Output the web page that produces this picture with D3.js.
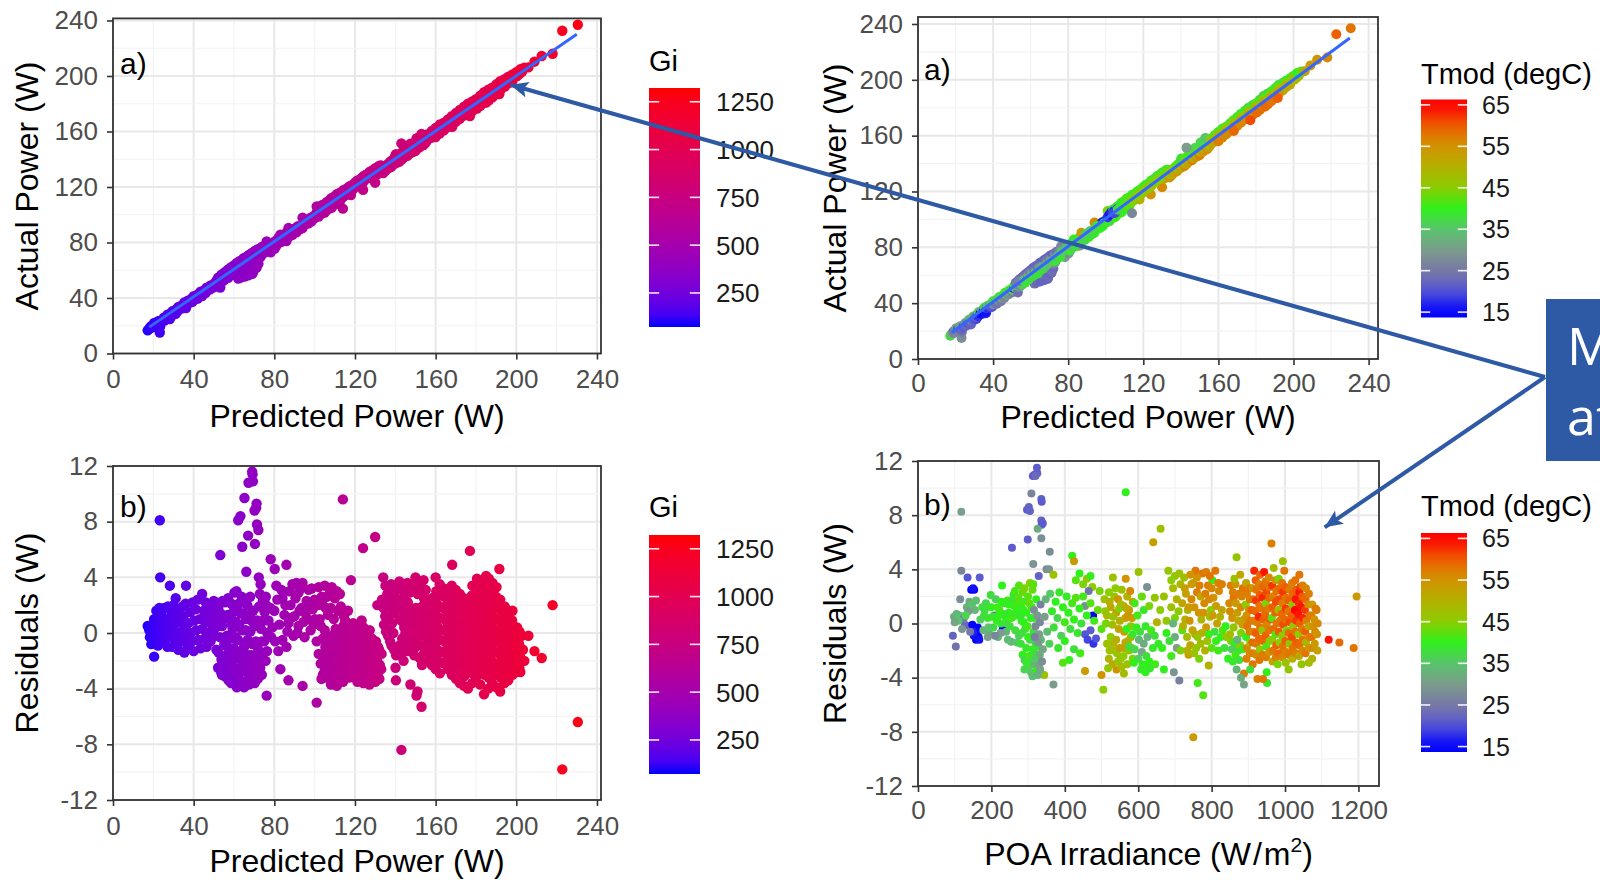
<!DOCTYPE html>
<meta charset="utf-8">
<head>
<title>PV power model: predicted vs actual and residuals</title>
<style>
  body { margin: 0; background: #fff; }
  svg text { font-family: "Liberation Sans", Arial, sans-serif; }
</style>
</head>
<body>
<div id="chart"></div>
<script src="https://d3js.org/d3.v7.min.js"></script>
<script>

// ---- axis breaks and colour scale settings ----
var powerTicks = [0, 40, 80, 120, 160, 200, 240];
var residualTicks = [-12, -8, -4, 0, 4, 8, 12];
var irradianceTicks = [0, 200, 400, 600, 800, 1000, 1200];
var giTicks = [250, 500, 750, 1000, 1250];
var tmodTicks = [15, 25, 35, 45, 55, 65];
var giLimits = [72, 1322];
var tmodLimits = [13.7, 66.3];
var tmodStops = [15, 20, 25, 30, 35, 40, 45, 50, 55, 60, 65];
var tmodColours = ["#0000ff", "#5555d8", "#7878a4", "#7c9c8c", "#58c46c", "#30f01c",
                   "#8ccc00", "#b4b000", "#d09400", "#ee5e00", "#ff0000"];

// fitted line (predicted -> actual), ends of the lm line
var fitPredicted = [18, 230];
var fitActual = [19, 230];

// ---- model without temperature: [predicted W, residual W, Gi, Tmod] ----
// residual = predicted - actual
var lowPowerPoints = [
  [17.2,0.5,88,38],[18.0,0.2,95,36],[18.3,-0.3,100,30],[19.0,-0.8,104,24],[19.4,0.6,106,26],[20.1,0.1,110,22],
  [20.4,1.0,112,28],[20.4,-1.7,113,33],[21.2,-0.4,118,24],[21.0,0.7,116,20],[21.5,1.6,120,26],[22.1,0.3,122,23],
  [22.3,-0.9,124,30],[23.2,8.1,128,28],[23.4,4.0,130,25],[23.0,1.8,127,22],[23.6,0.9,131,27],[23.3,-0.2,129,30],
  [24.4,0.4,135,24],[24.0,1.3,133,21],[25.2,-0.6,140,32],[25.5,1.8,142,23],[26.1,0.2,145,26],[26.4,1.0,147,22],
  [27.0,-1.0,150,34],[27.3,0.8,152,24],[27.2,1.9,151,20],[28.2,3.4,157,22],[28.4,0.3,158,28],[28.0,-0.3,156,31],
  [29.1,1.4,162,23],[29.4,-1.0,164,35],[30.2,0.5,168,25],[30.0,2.0,167,21],[31.1,2.5,173,19],[31.3,-0.5,174,30],
  [31.0,1.0,172,22],[32.2,0.0,179,26],[32.0,1.6,178,18],[32.4,-1.2,180,36],[33.3,0.8,185,16],[34.1,-0.6,190,30],
  [34.4,1.9,191,16],[35.2,0.3,196,17],[35.0,1.2,195,15],[35.4,-1.4,197,38],[36.2,3.4,201,17],[36.0,2.1,200,16],
  [36.5,-0.2,203,24],[37.3,0.7,207,17],[37.1,-1.0,206,36],[38.2,1.5,212,18],[38.4,0.0,214,27],[39.1,-0.6,218,35],
  [39.4,2.2,219,20],[40.2,0.9,224,30],[40.0,-1.3,222,38],[41.1,1.7,229,26],[41.3,0.2,230,34],[42.2,-0.5,235,37],
  [42.0,2.4,234,24],[43.1,1.0,240,32],[43.4,-1.1,241,39],[44.2,2.8,246,25],[44.4,0.3,247,35],[45.1,1.6,251,30],
  [45.3,-0.4,252,38],[46.2,0.8,257,36],[46.0,2.2,256,27],[46.4,-1.0,258,40],[47.1,0.0,262,38],[47.3,1.3,263,33],
  [48.2,2.0,268,28],[48.4,-0.6,269,39],[49.1,0.6,273,37],[49.3,1.5,274,34],[50.2,-0.2,279,40],[50.0,2.3,278,26],
  [50.4,1.0,280,36],[51.1,0.4,284,17],[51.3,-1.2,285,39],[52.2,1.8,290,30],[52.0,0.9,289,37],[53.2,5.6,296,24],
  [53.0,-0.3,295,38],[53.4,1.4,297,34],[54.1,0.5,301,37],[54.3,2.3,302,28],[55.2,-0.8,307,40],[55.0,1.0,306,36],
  [52.1,-2.5,290,22],[52.4,-1.4,291,26],[54.2,-2.2,302,24],[54.0,-3.0,300,22],[55.3,-3.1,307,23],[55.1,-1.8,306,27],
  [55.4,2.2,308,36],[56.2,-0.9,312,34],[56.0,-2.6,311,24],[57.1,2.5,317,38],[57.3,-3.4,318,22],[57.0,-1.5,316,27],
  [58.2,1.2,323,37],[58.0,-2.2,322,25],[58.4,-0.4,324,33],[59.1,-3.0,328,23],[59.3,0.3,329,36],[60.2,2.9,334,39],
  [60.0,-1.1,333,30],[60.4,-2.5,335,24],[60.1,-3.6,334,22],[61.2,3.0,340,40],[61.0,0.8,339,35],[61.4,-3.9,341,21],
  [61.3,-1.8,340,26],[62.1,8.1,345,24],[62.3,2.1,346,38],[62.0,-0.5,344,32],[62.4,-2.9,346,23],[63.2,8.4,351,23],
  [63.0,-3.4,350,22],[63.4,-1.3,352,28],[63.3,1.4,351,37],[64.1,6.2,356,25],[64.3,-2.2,357,24],[64.0,0.2,355,34],
  [65.2,9.7,362,22],[65.0,-3.9,361,21],[65.4,-0.9,363,29],[65.3,2.4,362,39],[66.1,4.4,367,26],[66.3,-2.8,368,23],
  [66.0,1.0,366,36],[67.2,10.8,373,22],[67.0,7.0,372,24],[67.4,-3.7,374,22],[67.3,-1.6,373,27],[68.1,0.1,378,33],
  [68.3,-2.4,379,24],[68.0,2.6,377,38],[69.2,11.4,384,21],[69.0,11.6,383,22],[69.4,10.9,385,23],[69.3,-3.0,384,23],
  [69.1,-0.8,383,30],[69.5,1.6,386,37],[70.2,8.8,390,22],[70.4,6.4,391,25],[70.0,-1.9,389,26],[70.3,-3.6,390,22],
  [70.1,0.5,389,34],[71.2,9.3,395,22],[71.0,9.0,394,23],[71.4,7.8,396,24],[71.3,-2.6,396,24],[72.1,7.4,400,23],
  [72.3,4.0,401,27],[72.0,-1.2,399,30],[72.4,1.9,402,38],[73.2,3.5,406,28],[73.0,-2.5,405,25],[73.4,0.3,407,35],
  [74.1,-1.6,411,30],[74.3,2.3,412,39],[75.2,1.5,417,38],[75.0,-0.6,416,34],[76.2,-4.5,423,27],[76.0,2.0,422,40],
  [76.4,-1.3,424,33],[77.1,0.9,428,37],[78.2,5.3,434,30],[78.0,1.8,433,38],[78.4,-0.3,435,36],[79.1,0.4,439,37]
];

// denser parts of the 50-117 W clouds
var lowPowerFill = [
  [53.6,-2.8,298,23],[53.8,-1.9,299,26],[56.6,-3.2,314,22],[56.8,-2.0,315,25],[56.5,-0.2,313,33],[56.9,1.3,316,37],
  [58.6,-3.6,325,22],[58.8,-2.8,326,23],[58.5,-1.2,324,28],[58.9,0.6,327,36],[58.7,2.1,326,39],
  [59.8,-1.8,332,26],[59.6,1.5,331,37],[60.7,-0.3,337,32],[61.8,-2.6,343,24],[61.7,1.8,342,38],
  [62.7,-3.8,348,22],[62.8,-1.5,349,27],[62.6,0.6,347,35],[63.7,-2.6,354,23],[63.8,2.6,354,39],
  [64.6,-3.5,359,22],[64.7,-1.1,359,29],[64.8,1.4,360,37],[65.7,-2.0,365,25],[65.8,0.2,365,33],
  [66.7,-3.4,371,22],[66.8,-0.5,371,31],[66.6,2.0,370,38],[67.7,-2.9,376,23],[67.8,1.2,376,36],
  [68.6,-3.6,381,22],[68.7,-1.6,381,27],[68.8,0.9,382,35],[69.8,-2.2,387,25],[70.7,-2.9,392,23],
  [70.8,-0.6,393,31],[71.7,-1.7,398,27],[71.8,-3.3,398,22],[71.6,0.9,397,35],[72.7,-2.0,403,26],
  [72.8,2.8,404,38],[73.7,-0.6,409,32],[73.8,-3.0,409,24],[74.7,0.9,415,36],[75.7,-2.0,420,28],[75.8,2.6,421,39],
  [81.5,2.4,452,37],[82.5,0.6,458,36],[83.5,3.1,463,38],[85.5,2.0,474,37],[86.5,0.1,480,35],[87.5,3.0,486,38],
  [88.5,1.1,491,36],[90.5,2.5,502,38],[91.5,0.0,508,35],[92.5,1.6,513,37],[93.0,3.2,516,39],[94.5,0.8,525,38],
  [96.5,1.0,536,39],[97.5,2.0,541,40],[98.5,3.2,547,40],[99.5,0.6,552,17],[101.5,2.0,563,39],[102.5,1.0,569,18],
  [103.5,2.6,574,40],[105.5,1.8,586,41],[106.0,2.6,588,42],[108.0,1.8,599,40],[109.5,1.0,608,41],[111.0,3.0,616,42],
  [113.0,1.9,627,43],[114.5,1.2,636,44],[116.5,1.6,647,46]
];

var midPowerPoints = [
  [80.2,4.6,445,28],[86.0,4.9,477,30],[81.0,3.4,450,36],[89.0,3.5,494,38],[94.0,3.6,522,40],[92.0,2.9,511,37],
  [84.0,2.5,466,38],[88.0,2.0,488,36],[80.0,1.6,444,40],[96.0,2.3,533,39],[100.0,2.4,555,41],[104.0,2.0,577,38],
  [107.6,2.9,597,42],[110.0,2.5,611,40],[106.6,1.3,592,39],[111.5,1.6,619,43],[100.2,1.0,556,18],[103.0,0.5,572,17],
  [92.0,0.5,511,36],[87.0,0.7,483,38],[84.0,-0.5,466,33],[86.0,-1.0,477,35],[80.4,-0.6,446,34],[76.5,0.0,425,36],
  [83.0,-2.6,461,40],[87.0,-3.4,483,54],[94.0,-3.8,522,56],[101.0,-5.0,561,44],[82.0,-1.3,455,38],[90.0,1.2,500,37],
  [95.5,1.4,530,40],[98.0,0.2,544,16],[91.0,3.6,505,39],[97.0,3.1,538,40],[102.0,3.3,566,38],[105.0,3.4,583,41],
  [108.5,3.3,603,40],[112.5,2.8,625,42],[85.0,1.3,472,37],[93.5,1.8,519,38],[99.0,1.7,550,39],[89.5,-0.2,497,36],
  [95.0,-0.3,528,38],
  [101.0,-0.6,561,18],[102.0,-1.5,566,16],[103.4,-3.3,574,40],[103.0,-2.2,572,17],[105.0,-2.7,583,38],[105.3,-1.0,585,17],
  [105.0,0.2,583,20],[107.2,-3.0,595,40],[107.0,-1.8,594,18],[107.4,-0.3,596,36],[109.1,-3.4,605,42],[109.3,-2.4,607,39],
  [109.0,-1.2,605,37],[109.5,-0.1,608,40],[111.0,-3.8,616,43],[111.2,-2.7,618,40],[111.4,-1.6,619,38],[111.1,-0.5,617,41],
  [113.2,-3.0,629,42],[113.0,-2.0,627,40],[113.4,-0.9,630,39],[113.1,0.1,628,42],[115.0,-2.5,639,39],[115.2,-1.4,640,40],
  [115.4,-0.3,641,43],[115.1,0.9,640,44],[117.2,-3.2,651,40],[117.0,-2.1,650,38],[117.4,-1.0,652,41],[117.1,0.4,651,44],
  [119.2,-2.6,662,39],[119.0,-1.5,661,41],[119.4,-0.4,663,44],[119.1,0.7,662,46],[121.2,-3.5,673,40],[121.0,-2.8,672,38],
  [121.4,-1.8,674,41],[121.1,-0.7,672,43],[121.3,0.3,673,45],[123.2,-3.1,684,39],[123.0,-2.2,683,41],[123.4,-1.2,685,43],
  [123.1,0.0,684,46],[123.3,0.9,685,48],[125.2,-3.4,695,38],[125.0,-2.5,694,40],[125.4,-1.5,696,42],[125.1,-0.5,695,45],
  [127.2,-3.7,706,37],[127.0,-2.8,705,40],[127.4,-1.9,707,42],[127.1,-0.9,706,44],[127.3,0.2,707,47],[129.2,-3.2,717,38],
  [129.0,-2.3,716,41],[129.4,-1.3,719,43],[131.2,-3.0,728,39],[131.0,-2.0,727,42],[131.4,-1.0,729,44],[131.1,2.0,728,52],
  [133.0,-2.6,739,40],[133.2,-1.5,740,43],[133.4,2.4,741,53],
  [114.0,9.6,633,27],[124.0,6.1,689,55],[130.0,6.9,722,56],[118.0,3.8,656,50]
];

var highPowerPoints = [
  [134.0,4.0,744,55],[134.2,1.8,745,49],[134.4,0.6,746,46],[136.0,2.8,755,53],[136.2,1.2,756,48],[136.4,-0.2,757,44],
  [138.0,3.5,766,55],[138.2,2.2,767,51],[138.4,0.7,768,47],[138.1,-0.9,767,42],[140.0,3.0,777,53],[140.2,1.6,778,49],
  [140.4,-1.6,779,41],[140.1,-2.5,778,39],[140.3,-3.4,779,38],[142.0,3.7,788,56],[142.2,2.4,789,52],[142.4,1.0,790,48],
  [142.1,-0.9,789,43],[144.0,3.0,800,54],[144.2,1.6,801,50],[144.4,0.4,802,46],[144.1,-2.0,800,40],[146.0,3.6,811,57],
  [146.2,2.2,812,52],[146.4,0.9,813,48],[146.1,-0.4,811,44],[146.3,-1.3,812,42],[148.0,3.2,822,55],[148.2,1.5,823,50],
  [148.4,0.2,824,46],[148.1,-0.9,822,43],[147.5,-3.7,819,37],[150.0,4.0,833,57],[150.2,1.8,834,51],[150.4,0.6,835,47],
  [150.1,-1.0,833,42],[150.5,-4.5,836,36],[152.0,3.4,844,55],[152.2,1.2,845,49],[152.4,-0.2,846,45],[152.1,-1.8,844,41],
  [151.0,-4.2,838,37],[154.0,3.8,855,56],[154.2,2.5,856,53],[154.4,0.8,857,48],[154.1,-1.5,856,42],[153.0,-5.3,850,35],
  [143.0,-8.4,794,30],
  [155.8,-2.0,866,41],[156.2,-1.2,868,43],[156.0,-0.4,867,45],[156.4,0.4,869,47],[156.1,1.2,867,49],[156.3,2.0,868,52],
  [160.0,-2.6,889,40],[160.3,-1.8,890,42],[159.8,-1.0,888,44],[160.2,-0.2,890,46],[160.4,0.6,891,48],[159.9,1.4,888,50],
  [160.1,2.2,889,53],[160.3,3.0,890,55],[160.0,4.0,889,57],
  [164.1,-2.2,911,41],[163.8,-1.4,910,43],[164.3,-0.6,912,45],[164.0,0.2,911,47],[164.2,1.0,912,49],[163.9,1.8,910,52],
  [164.4,2.6,913,54],[164.1,3.2,911,56],
  [168.0,-3.0,933,39],[168.3,-2.2,934,41],[167.8,-1.4,932,44],[168.2,-0.6,934,46],[168.4,0.2,935,48],[167.9,1.0,932,50],
  [168.1,1.8,933,52],[168.3,2.6,934,55],[168.0,3.4,933,57],[168.2,4.9,934,59],
  [172.0,-3.6,955,38],[172.3,-2.8,956,40],[171.8,-2.0,954,42],[172.2,-1.2,956,44],[172.4,-0.4,957,46],[171.9,0.4,955,48],
  [172.1,1.2,955,51],[172.3,2.0,956,53],[172.0,2.8,955,56],
  [176.0,-4.0,977,37],[176.3,-2.6,978,40],[175.8,-1.8,976,43],[176.2,-1.0,978,45],[176.4,-0.2,979,47],[175.9,0.6,976,49],
  [176.1,1.4,977,52],[176.3,2.2,978,55],[177.0,5.9,983,61],
  [180.0,-3.2,999,38],[180.3,-2.4,1000,41],[179.8,-1.6,998,43],[180.2,-0.8,1000,45],[180.4,0.0,1001,48],[179.9,0.8,998,50],
  [180.1,1.6,999,53],[180.3,2.4,1000,55],[180.0,3.2,999,57],[180.5,3.9,1002,59],
  [184.0,-4.4,1021,36],[184.3,-3.0,1022,39],[183.8,-2.2,1020,42],[184.2,-1.4,1022,44],[184.4,-0.6,1023,46],[183.9,0.2,1021,48],
  [184.1,1.0,1021,51],[184.3,1.8,1022,53],[184.0,2.6,1021,55],[184.2,3.4,1022,57],[185.0,4.1,1027,59],
  [188.0,-3.6,1043,37],[188.3,-2.8,1044,40],[187.8,-2.0,1042,42],[188.2,-1.2,1044,44],[188.4,-0.4,1045,47],[187.9,0.4,1042,49],
  [188.1,1.2,1043,51],[188.3,2.0,1044,54],[188.0,2.8,1043,56],[188.2,3.6,1044,58],
  [192.0,-4.2,1065,37],[192.3,-3.2,1066,39],[191.8,-2.4,1064,42],[192.2,-1.6,1066,44],[192.4,-0.8,1067,46],[191.9,0.0,1064,48],
  [192.1,0.8,1065,50],[192.3,1.6,1066,53],[192.0,2.4,1065,55],[191.6,4.6,1063,60],
  [196.0,-3.4,1087,38],[196.3,-2.6,1088,40],[195.8,-1.8,1086,43],[196.2,-1.0,1088,45],[196.4,-0.2,1089,47],[195.9,0.6,1086,50],
  [196.1,1.4,1087,52],
  [200.0,-2.8,1109,39],[200.3,-2.0,1110,42],[199.8,-1.2,1108,44],[200.2,-0.4,1110,47],[200.4,0.4,1111,49],
  [203.0,-2.0,1126,42],[203.3,-1.2,1127,45],[202.8,-0.2,1125,48],[202.0,-2.8,1120,40],[204.0,-2.0,1131,42],
  [206.0,-0.2,1142,52],[209.0,-1.3,1159,54],[212.6,-1.8,1179,55],[218.0,2.0,1209,56],[222.8,-9.8,1236,60],[230.5,-6.4,1279,58]
];

// denser parts of the 100-205 W clouds
var highPowerFill = [
  [104.1,-3.0,578,40],[104.3,-1.6,579,17],[104.0,-0.4,577,19],
  [106.1,-3.2,589,39],[106.3,-2.3,590,38],[106.0,-1.3,588,18],[106.4,-0.6,591,37],
  [108.1,-3.7,600,41],[108.3,-2.6,601,40],[108.0,-1.5,599,38],[108.4,-0.7,602,39],
  [110.1,-3.2,611,42],[110.3,-2.1,612,40],[110.0,-1.0,610,39],[110.4,0.3,613,42],
  [112.1,-3.4,622,41],[112.3,-2.4,623,40],[112.0,-1.3,621,42],[112.4,-0.2,624,43],
  [114.1,-3.5,633,40],[114.3,-2.6,634,39],[114.0,-1.7,632,41],[114.4,-0.6,635,43],[114.2,0.5,634,45],
  [116.1,-3.0,644,39],[116.3,-1.9,645,41],[116.0,-0.8,643,43],[116.4,0.3,646,45],
  [118.1,-2.9,655,40],[118.3,-1.8,656,42],[118.0,-0.7,654,44],[118.4,0.2,657,46],
  [120.1,-3.2,666,39],[120.3,-2.2,667,41],[120.0,-1.1,665,43],[120.4,0.1,668,45],
  [122.1,-2.6,677,40],[122.3,-1.5,678,42],[122.0,-0.3,676,45],[122.4,0.6,679,47],
  [124.1,-3.6,688,38],[124.3,-2.8,689,40],[124.0,-1.8,687,42],[124.4,-0.9,690,44],[124.2,0.4,689,46],
  [126.1,-3.1,699,39],[126.3,-2.1,700,41],[126.0,-1.1,698,43],[126.4,-0.1,701,46],
  [128.1,-3.4,710,38],[128.3,-2.4,711,41],[128.0,-1.4,709,43],[128.4,-0.4,712,45],
  [130.1,-3.5,721,38],[130.3,-2.6,722,40],[130.0,-1.6,720,42],[130.4,-0.6,723,44],
  [132.1,-3.3,733,39],[132.3,-2.3,734,41],[132.0,-1.2,732,43],
  [135.1,3.4,750,55],[135.3,2.3,751,52],[135.0,1.2,749,48],[135.4,0.1,752,45],
  [137.1,3.1,761,54],[137.3,1.9,762,50],[137.0,0.5,760,47],[137.4,-0.6,763,43],
  [139.1,2.8,772,53],[139.3,1.4,773,49],[139.0,0.0,771,45],[139.4,-1.2,774,42],
  [141.1,3.3,783,55],[141.3,2.0,784,51],[141.4,-1.3,785,42],
  [143.1,3.4,794,55],[143.3,2.1,795,51],[143.0,0.9,793,48],[143.4,-0.4,796,44],[143.2,-1.5,795,42],
  [145.1,2.6,805,53],[145.3,1.3,806,49],[145.0,0.0,804,46],[145.4,-1.0,807,43],
  [147.1,2.9,816,54],[147.3,1.8,817,51],[147.0,0.5,815,47],[147.4,-0.6,818,44],
  [149.1,3.6,827,56],[149.3,1.1,828,48],[149.0,-0.3,826,45],[149.4,-1.6,829,42],
  [151.1,2.8,838,54],[151.3,1.5,839,50],[151.0,0.2,837,46],[151.4,-0.8,840,44],
  [153.1,3.0,849,55],[153.3,1.9,850,51],[153.0,0.4,848,47],[153.4,-0.9,851,44],[153.2,-2.3,850,40],
  [155.1,3.1,860,55],[155.3,1.6,861,51],[155.0,0.2,859,46],[155.4,-1.0,862,43],
  [158.1,-2.3,877,40],[158.3,-1.5,878,43],[158.0,-0.7,876,45],[158.4,0.1,879,47],[158.2,0.9,878,50],[157.9,1.7,876,52],[158.1,2.5,877,55],
  [162.1,-2.9,899,39],[162.3,-2.1,900,42],[162.0,-1.3,898,44],[162.4,-0.5,901,46],[162.2,0.3,900,48],[161.9,1.1,898,50],
  [162.1,1.9,899,52],[162.3,2.7,900,55],[162.0,3.5,898,57],
  [166.1,-2.6,921,39],[166.3,-1.8,922,42],[166.0,-1.0,920,44],[166.4,-0.2,923,46],[166.2,0.6,922,49],[165.9,1.4,920,51],
  [166.1,2.2,921,54],[166.3,3.0,922,56],
  [170.1,-3.3,944,38],[170.3,-2.5,945,40],[170.0,-1.7,943,43],[170.4,-0.9,946,45],[170.2,-0.1,945,47],[169.9,0.7,943,50],
  [170.1,1.5,944,52],[170.3,2.3,945,55],[170.0,3.1,943,57],
  [174.1,-3.8,966,37],[174.3,-3.1,967,39],[174.0,-2.3,965,42],[174.4,-1.5,968,44],[174.2,-0.7,967,46],[173.9,0.1,965,48],
  [174.1,0.9,966,50],[174.3,1.7,967,53],[174.0,2.5,965,55],
  [178.1,-3.6,988,37],[178.3,-2.9,989,39],[178.0,-2.1,987,42],[178.4,-1.3,990,44],[178.2,-0.5,989,46],[177.9,0.3,987,48],
  [178.1,1.1,988,51],[178.3,1.9,989,53],[178.0,2.7,987,56],[178.2,3.4,988,58],
  [182.1,-3.7,1010,37],[182.3,-2.7,1011,39],[182.0,-1.9,1009,42],[182.4,-1.1,1012,44],[182.2,-0.3,1011,46],[181.9,0.5,1009,49],
  [182.1,1.3,1010,51],[182.3,2.1,1011,54],[182.0,2.9,1009,56],[182.2,3.7,1010,58],
  [186.1,-4.0,1032,36],[186.3,-3.2,1033,38],[186.0,-2.4,1031,41],[186.4,-1.6,1034,43],[186.2,-0.8,1033,45],[185.9,0.0,1031,48],
  [186.1,0.8,1032,50],[186.3,1.6,1033,52],[186.0,2.4,1031,55],[186.2,3.2,1032,57],[186.4,3.9,1034,59],
  [190.1,-3.9,1055,37],[190.3,-3.0,1056,39],[190.0,-2.2,1054,42],[190.4,-1.4,1057,44],[190.2,-0.6,1056,46],[189.9,0.2,1054,48],
  [190.1,1.0,1055,50],[190.3,1.8,1056,53],[190.0,2.6,1054,55],[190.2,3.3,1055,57],
  [194.1,-3.6,1077,37],[194.3,-2.9,1078,39],[194.0,-2.1,1076,42],[194.4,-1.3,1079,44],[194.2,-0.5,1078,46],[193.9,0.3,1076,48],
  [194.1,1.1,1077,50],[194.3,1.9,1078,52],
  [198.1,-3.0,1099,38],[198.3,-2.3,1100,41],[198.0,-1.5,1098,43],[198.4,-0.7,1101,45],[198.2,0.1,1100,47],[197.9,0.9,1098,50],
  [198.1,1.6,1099,52],
  [201.5,-2.5,1118,40],[201.7,-1.6,1119,43],[201.4,-0.8,1117,45],[201.6,0.1,1118,47]
];

// ---- model residuals vs plane-of-array irradiance: [POA W/m2, residual W, Tmod] ----
var poaLowPoints = [
  [118,8.25,30],[118,3.9,27],[135,3.4,20],[168,3.4,21],[145,2.5,15],[153,2.5,15],[150,2.6,16],[115,1.8,28],
  [98,0.5,32],[105,0.7,33],[113,0.6,34],[95,-0.9,22],[103,-1.7,24],[128,-0.1,23],[140,-0.2,22],
  [148,-0.1,15],[155,-0.4,15],[160,-0.7,16],[165,-1.0,15],[158,-1.2,15],[152,-0.9,16],[163,-0.3,15],[167,-1.2,16],[150,-0.6,17],
  [133,1.2,33],[140,1.6,32],[147,1.4,35],[155,1.0,33],[158,1.7,34],[137,0.9,30],[125,0.4,26],[120,-0.4,29],
  [110,0.2,35],[100,0.1,31],[130,0.6,37],[142,-0.6,25],[170,0.3,36],[175,1.2,38],[178,-0.5,33],
  [198,2.1,38],[229,2.8,40],[208,0.6,23],[231,-0.4,15],[254,-1.35,33],[256,5.6,21],[185,1.5,37],[190,0.4,39],
  [195,-0.8,32],[200,1.2,40],[205,-0.3,38],[212,1.8,36],[215,0.2,40],[218,-1.0,34],[222,1.0,41],[226,0.0,39],
  [235,1.5,38],[238,0.5,40],[240,-0.6,33],[244,1.7,41],[247,0.8,40],[250,-0.2,38],[253,1.6,37],[258,0.5,40],
  [262,1.3,41],[265,-0.5,38],[268,1.8,39],[272,0.6,40],[275,-0.9,36],[278,1.5,42],[282,0.2,39],[285,2.3,43],
  [288,1.0,41],[292,-0.4,38],[260,2.1,39],[245,-1.2,34],[225,-0.7,30],[210,-0.9,27],[190,-1.0,30],[180,0.6,38],[270,-1.4,35],
  [182,1.0,38],[203,0.5,39],[217,1.2,41],[228,1.6,40],[233,0.7,39],[242,0.0,38],[248,1.4,40],[255,0.4,41],
  [266,0.8,39],[273,1.9,42],[283,1.1,40],[192,-0.3,35],[220,0.6,40],
  [297,8.4,21],[302,8.6,22],[309,9.6,27],[313,10.9,21],[318,11.0,21],[325,11.1,22],[324,11.5,21],[336,9.2,22],
  [337,9.0,21],[336,7.6,22],[337,7.3,21],[326,7.0,32],[336,6.3,28],[359,5.3,28],[314,4.4,29],[329,3.5,22],
  [350,4.0,28],[357,4.0,29],[369,3.6,47],[299,6.2,21],[305,8.3,22],[320,10.9,23],[340,7.4,21],
  [280,-1.5,38],[285,-2.3,40],[290,-2.7,36],[295,-1.8,39],[300,-3.2,38],[302,-2.4,41],[305,-1.2,37],[308,-3.6,35],
  [310,-2.8,39],[312,-1.9,40],[315,-3.0,33],[318,-2.2,38],[320,-1.4,36],[322,-3.5,40],[325,-2.6,35],[328,-1.7,39],
  [330,-3.0,30],[332,-2.3,32],[335,-1.2,34],[338,-2.8,28],[340,-1.9,31],[344,-3.8,47],[300,-1.0,40],[315,-0.6,38],
  [290,-3.4,37],[312,-3.9,34],[327,-3.8,33],
  [283,-0.7,38],[298,-0.2,41],[307,0.4,39],[303,1.5,43],[288,0.1,40],[296,-2.9,39],[317,-2.6,36],[333,-3.4,31],
  [264,2.4,41],[270,1.0,40],[275,2.8,42],[280,0.6,39],[285,1.6,41],[290,2.6,44],[295,0.8,40],[300,2.0,42],
  [305,3.0,45],[310,1.2,41],[312,2.5,43],[318,0.4,39],[322,1.8,40],[314,2.9,42],
  [316,1.0,28],[320,-0.2,27],[325,0.6,29],[330,-0.8,30],[334,1.4,26],[328,-1.4,29],[332,0.1,27],[318,-1.0,26]
];

var poaMidPoints = [
  [369,-4.5,30],[420,5.0,40],[425,4.6,54],[430,3.2,42],[440,3.7,40],[450,2.9,44],[460,3.3,46],[470,3.5,40],
  [475,2.7,45],[465,2.4,24],[455,1.3,28],[477,0.6,15],[455,-0.8,20],[462,-1.2,19],[470,-0.5,21],[478,-1.5,18],
  [485,-1.1,20],[412,-2.7,40],[455,-3.5,54],[360,2.2,36],[365,0.9,39],[370,-0.3,38],[375,1.6,40],[380,0.4,37],
  [385,2.3,39],[390,-0.9,36],[395,1.2,40],[400,0.1,41],[405,2.0,39],[410,0.8,40],[415,-0.4,38],[420,1.5,41],
  [425,0.3,40],[430,1.9,42],[435,-0.7,39],[440,1.1,40],[445,0.0,38],[450,2.0,41],[460,0.6,40],[470,1.5,42],
  [480,0.2,41],[490,1.0,43],[495,2.4,44],[352,-0.6,34],[358,-1.5,36],[382,-1.8,39],[400,-1.3,40],[425,-1.9,38],
  [442,-2.2,41],[395,-2.9,42],[500,-0.4,42],[345,0.5,30],[348,1.8,33],
  [505,-4.9,45],[500,-3.8,55],[541,-3.4,55],[561,-3.7,48],[566,9.7,40],[566,3.3,55],[531,3.4,47],[641,6.0,53],
  [661,7.0,47],[601,3.8,47],[624,2.7,28],
  [508,1.8,47],[515,0.6,49],[520,2.3,45],[525,1.2,52],[530,-0.1,48],[535,2.0,46],[540,0.8,53],[545,1.8,55],
  [550,0.2,50],[555,2.5,47],[560,1.3,54],[565,0.4,52],[570,2.0,49],[575,1.0,55],[580,-0.2,46],[585,1.6,53],
  [512,0.0,44],[548,1.1,44],[578,2.4,56],
  [510,0.9,46],[522,1.6,50],[532,0.5,47],[538,2.6,45],[547,-0.4,52],[553,1.4,48],[562,-0.6,53],[568,1.1,51],
  [572,0.6,55],[583,0.4,54],[522,-2.0,47],[532,-1.5,50],[542,-2.2,46],[552,-2.6,48],[562,-1.8,52],[572,-1.3,45],[582,-1.8,49],
  [515,-1.5,47],[520,-2.6,49],[525,-1.0,45],[530,-3.0,52],[535,-2.0,47],[540,-1.2,50],[545,-2.8,46],[550,-1.8,53],
  [555,-3.2,48],[560,-2.4,45],[565,-1.4,52],[570,-3.0,47],[575,-2.0,46],[580,-1.0,49],[585,-2.6,44],[518,-3.3,46],
  [568,-0.4,40],[575,-1.7,38],[585,-0.8,39],[590,-1.9,37],[595,-0.3,40],[600,-2.6,36],[602,-1.2,33],[605,-0.6,38],
  [610,-2.1,31],[612,-3.0,40],[615,-1.5,32],[616,-3.2,40],[620,-0.2,39],[622,-2.4,38],[625,-1.0,33],[630,-2.8,40],
  [635,-0.5,41],[640,-1.8,39],[646,-3.0,41],[651,0.1,50],[645,-0.9,38],[608,-3.4,39],[588,-2.9,40],[598,0.6,41],
  [615,1.0,39],[630,1.3,44],[610,2.0,43],[590,1.5,41],[645,1.9,46],[655,-1.5,39],[620,-3.6,40],[632,-3.3,39],
  [677,0.2,46],[670,2.0,47],[682,3.9,46],[670,-3.4,40],[697,-3.6,29],[712,-4.2,26],[762,-4.4,41],[777,-5.3,42],
  [750,-8.4,54],[737,-2.3,54],[792,-3.1,50],[868,4.9,46],[888,-3.7,57],[868,-3.4,33],[880,-4.0,32],[888,-4.5,31],[802,3.2,40],
  [690,1.2,47],[695,2.6,48],[700,3.5,46],[705,1.8,50],[710,0.9,46],[715,2.9,49],[720,1.5,52],[725,3.4,47],
  [730,2.2,53],[735,1.0,48],[690,3.2,45],[700,0.4,44],[712,3.7,47],[728,0.3,50],
  [677,-0.7,40],[700,-1.0,32],[705,-1.8,30],[685,-1.3,38],[720,-0.5,42],[715,-2.0,44],[690,-2.4,41],[695,0.0,33],
  [665,-1.8,40],[660,1.0,45],
  [740,0.2,55],[745,1.8,56],[750,3.0,52],[755,-0.8,50],[760,2.3,57],[765,0.8,55],[770,-1.5,48],[775,3.7,58],
  [780,1.5,56],[785,-0.3,54],[790,2.8,57],[795,0.5,47],[800,-1.8,42],[805,1.9,55],[810,3.9,58],[815,0.0,53],
  [820,2.4,56],[825,-1.0,40],[828,1.0,52],[742,-1.6,52],[752,-2.2,47],[762,-1.0,46],[772,0.3,49],[782,-2.0,50],
  [792,-0.8,40],[798,1.0,45],[808,-0.6,38],[818,-2.0,41],[745,2.9,54],[785,3.8,57],[795,3.5,58],[760,3.4,55],
  [770,2.0,52],[733,-1.0,48],[727,2.6,53],
  [722,-0.2,50],[738,1.2,54],[748,-0.5,52],[753,1.2,55],[758,-1.8,46],[767,2.8,57],[773,-0.7,50],[778,0.8,55],
  [783,2.2,57],[788,-1.3,47],[793,1.8,56],[803,0.6,54],[812,1.3,53],[818,3.0,57],[823,0.5,50],[812,-1.3,40],
  [828,2.9,57],[800,2.6,56],[766,-2.6,44],[756,3.9,58],[742,3.6,55],[734,-2.0,50],
  [848,1.5,56],[852,2.8,57],[856,0.4,55],[860,1.9,58],[865,2.9,55],[870,0.8,53],[875,2.2,57],[880,1.2,56],
  [885,2.6,58],[888,0.3,55],[862,3.3,47],[878,3.6,52],
  [850,0.9,56],[858,2.3,57],[866,1.5,54],[873,0.2,52],[882,2.0,57],[853,-1.3,44],[863,-1.5,40],[872,-2.0,38],
  [878,-1.6,45],[884,-0.1,53],
  [830,-0.5,42],[835,-1.8,38],[840,-1.0,45],[845,-2.6,40],[850,-0.8,48],[855,-1.9,36],[860,-0.3,46],[865,-2.3,41],
  [870,-1.2,33],[875,-2.7,38],[880,-0.7,44],[885,-1.9,40],[838,-0.2,40],[858,-2.8,39]
];

var poaHighPoints = [
  [895,-2.6,57],[896,-1.8,56],[894,-1.0,40],[897,-0.2,58],[895,0.6,55],[893,1.4,45],[896,2.2,57],[894,3.0,52],
  [904,-2.2,56],[905,-1.4,45],[903,-0.6,57],[906,0.2,58],[902,1.0,56],[904,1.8,57],[905,2.6,58],
  [912,-3.0,58],[913,-2.2,57],[911,-1.4,59],[914,-0.6,56],[912,0.2,57],[910,1.0,60],[913,1.8,58],[911,2.6,55],[916,3.9,63],
  [921,-2.3,56],[922,-1.5,58],[920,-0.7,60],[923,0.1,57],[919,0.9,59],[921,1.7,62],[922,2.5,58],[920,3.2,60],
  [930,-2.7,58],[931,-1.9,45],[929,-1.1,59],[932,-0.3,58],[928,0.5,63],[930,1.3,58],[931,2.1,60],[929,2.9,57],[932,3.6,59],
  [939,-2.3,57],[940,-1.3,59],[938,-0.5,46],[941,0.3,60],[937,1.1,58],[939,1.9,63],[940,2.7,59],
  [948,-2.5,57],[949,-1.7,42],[947,-0.9,60],[950,-0.1,56],[946,0.7,59],[948,1.5,44],[949,2.3,61],[947,3.1,58],
  [943,3.8,64],[950,-3.6,40],[951,-4.4,39],
  [957,-2.1,55],[958,-1.3,44],[956,-0.5,58],[959,0.3,60],[955,1.1,57],[957,1.9,59],[958,2.7,58],[956,3.4,56],
  [966,-2.8,52],[967,-2.0,58],[965,-1.2,46],[968,-0.4,59],[964,0.4,42],[966,1.2,60],[967,2.0,57],[965,2.8,62],
  [969,4.1,48],[963,5.9,57],
  [975,-2.5,57],[976,-1.6,60],[974,-0.8,42],[977,0.0,58],[973,0.8,59],[975,1.6,61],[976,2.4,58],[974,3.2,55],
  [984,-2.2,59],[985,-1.4,45],[983,-0.6,60],[986,0.2,58],[982,1.0,48],[984,1.8,61],[985,2.6,59],[983,3.3,44],
  [993,-2.5,56],[994,-1.7,58],[992,-0.9,46],[995,-0.1,61],[991,0.7,59],[993,1.5,57],[994,2.3,62],[992,3.0,58],
  [1002,-2.9,47],[1003,-2.1,57],[1001,-1.3,60],[1004,-0.5,44],[1000,0.3,59],[1002,1.1,62],[1003,1.9,58],[1001,2.7,60],
  [998,3.9,58],[994,4.6,47],
  [1011,-2.3,58],[1012,-1.5,46],[1010,-0.7,59],[1013,0.1,61],[1009,0.9,58],[1011,1.7,60],[1012,2.5,57],
  [1020,-2.6,50],[1021,-1.8,58],[1019,-1.0,61],[1022,-0.2,47],[1018,0.6,60],[1020,1.4,46],[1021,2.2,59],[1019,3.0,57],
  [1029,-2.2,57],[1030,-1.4,60],[1028,-0.6,58],[1031,0.2,62],[1027,1.0,65],[1029,1.8,64],[1030,2.5,60],[1028,3.2,58],
  [1038,-2.4,52],[1039,-1.6,59],[1037,-0.8,45],[1040,0.0,60],[1036,0.7,64],[1038,1.5,63],[1039,2.3,64],[1042,2.7,62],[1039,3.6,58],
  [1047,-2.0,56],[1048,-1.2,58],[1046,-0.4,57],[1049,0.4,63],[1045,1.2,64],[1047,2.0,60],[1048,2.8,57],
  [1056,-2.2,58],[1057,-1.4,49],[1055,-0.6,60],[1058,0.2,57],[1054,1.0,62],[1056,1.8,59],[1057,2.6,56],
  [1065,-1.8,55],[1066,-1.0,57],[1064,-0.2,52],[1067,0.6,58],[1063,1.4,56],[1065,2.2,57],
  [1074,-2.6,50],[1075,-1.8,56],[1073,-1.0,58],[1076,-0.2,55],[1072,0.6,57],[1074,1.4,54],
  [1081,-1.5,54],[1082,-0.6,56],[1080,0.3,55],[1083,1.1,57],
  [1088,-2.0,53],[1087,-0.8,55],[1089,0.0,56],[1086,1.0,57],
  [925,-4.1,57],[940,-4.1,58],[1065,-2.9,48],[1045,-3.0,46],[980,-3.0,44],[1010,-3.4,46],[905,-3.4,38],
  [1119,-1.2,64],[1148,-1.4,59],[1187,-1.8,58],[1195,2.0,54]
];

// annotation arrow tips, in data units of the panel they point into
var arrowTipFit = [197, 193.7];
var arrowTipResidual = [1108, 7.1];

// ---------------------------------------------------------------
var leftPoints = lowPowerPoints.concat(lowPowerFill, midPowerPoints, highPowerFill, highPowerPoints);
var poaPoints = poaLowPoints.concat(poaMidPoints, poaHighPoints);

var svg = d3.select("#chart").append("svg")
    .attr("width", 1600)
    .attr("height", 880);

var giColour = d3.scaleLinear().domain(giLimits).range(["#0000ff", "#ff0000"])
    .interpolate(d3.interpolateLab).clamp(true);
var tmodColour = d3.scaleLinear().domain(tmodStops).range(tmodColours).clamp(true);
var plainNumber = function(d) { return String(d); };

function drawPanel(p) {
  var x = d3.scaleLinear().domain(p.xDomain).range([p.left, p.right]);
  var y = d3.scaleLinear().domain(p.yDomain).range([p.bottom, p.top]);
  var g = svg.append("g");
  var mids = function(t) { return d3.pairs(t).map(function(d) { return (d[0] + d[1]) / 2; }); };

  g.append("rect")
    .attr("x", p.left).attr("y", p.top)
    .attr("width", p.right - p.left).attr("height", p.bottom - p.top)
    .attr("fill", "#fff");

  [[mids(p.xTicks), "#f3f3f3", 1.2], [p.xTicks, "#e8e8e8", 2]].forEach(function(s) {
    g.append("g").selectAll("line").data(s[0]).join("line")
      .attr("x1", function(d) { return x(d); }).attr("x2", function(d) { return x(d); })
      .attr("y1", p.top).attr("y2", p.bottom)
      .attr("stroke", s[1]).attr("stroke-width", s[2]);
  });
  [[mids(p.yTicks), "#f3f3f3", 1.2], [p.yTicks, "#e8e8e8", 2]].forEach(function(s) {
    g.append("g").selectAll("line").data(s[0]).join("line")
      .attr("y1", function(d) { return y(d); }).attr("y2", function(d) { return y(d); })
      .attr("x1", p.left).attr("x2", p.right)
      .attr("stroke", s[1]).attr("stroke-width", s[2]);
  });
  return { g: g, x: x, y: y, p: p };
}

function finishPanel(panel) {
  var p = panel.p, g = panel.g;
  g.append("rect")
    .attr("x", p.left).attr("y", p.top)
    .attr("width", p.right - p.left).attr("height", p.bottom - p.top)
    .attr("fill", "none").attr("stroke", "#333").attr("stroke-width", 1.8);

  var xa = g.append("g")
    .attr("transform", "translate(0," + p.bottom + ")")
    .call(d3.axisBottom(panel.x).tickValues(p.xTicks).tickFormat(plainNumber).tickSize(6).tickPadding(p.xPad));
  var ya = g.append("g")
    .attr("transform", "translate(" + p.left + ",0)")
    .call(d3.axisLeft(panel.y).tickValues(p.yTicks).tickFormat(plainNumber).tickSize(6).tickPadding(9));
  [xa, ya].forEach(function(a) {
    a.select(".domain").remove();
    a.attr("font-family", null).attr("font-size", null);
    a.selectAll(".tick line").attr("stroke", "#333").attr("stroke-width", 1.6);
    a.selectAll(".tick text").attr("fill", "#4d4d4d").style("font-size", "26px");
  });

  var xt = g.append("text")
    .attr("x", (p.left + p.right) / 2)
    .attr("y", p.xTitleY)
    .attr("text-anchor", "middle")
    .style("font-size", "32px")
    .attr("fill", "#000");
  if (p.xTitle === "POA") {
    xt.append("tspan").text("POA Irradiance (W");
    xt.append("tspan").attr("dx", 2).text("/");
    xt.append("tspan").attr("dx", 2).text("m");
    xt.append("tspan").attr("dy", -13).style("font-size", "21px").text("2");
    xt.append("tspan").attr("dy", 13).text(")");
  } else {
    xt.text(p.xTitle);
  }

  g.append("text")
    .attr("transform", "translate(" + p.yTitleX + "," + ((p.top + p.bottom) / 2) + ") rotate(-90)")
    .attr("text-anchor", "middle")
    .style("font-size", "32px")
    .attr("fill", "#000")
    .text(p.yTitle);

  g.append("text")
    .attr("x", p.left + p.tagDx)
    .attr("y", p.tagY)
    .style("font-size", "30px")
    .attr("fill", "#000")
    .text(p.tag);
}

function drawColourBar(c) {
  var id = "grad" + c.id;
  var grad = svg.append("defs").append("linearGradient")
    .attr("id", id).attr("x1", 0).attr("y1", 1).attr("x2", 0).attr("y2", 0);
  d3.range(0, 1.0001, 0.05).forEach(function(t) {
    grad.append("stop")
      .attr("offset", t)
      .attr("stop-color", c.colour(c.limits[0] + t * (c.limits[1] - c.limits[0])));
  });
  var s = d3.scaleLinear().domain(c.limits).range([c.y + c.h, c.y]);
  var g = svg.append("g");
  g.append("text")
    .attr("x", c.x).attr("y", c.titleY)
    .style("font-size", "29px").attr("fill", "#000")
    .text(c.title);
  g.append("rect")
    .attr("x", c.x).attr("y", c.y).attr("width", c.w).attr("height", c.h)
    .attr("fill", "url(#" + id + ")");
  c.ticks.forEach(function(v) {
    g.append("line")
      .attr("x1", c.x).attr("x2", c.x + c.w / 5)
      .attr("y1", s(v)).attr("y2", s(v))
      .attr("stroke", "#fff").attr("stroke-width", 1.6).attr("stroke-opacity", 0.9);
    g.append("line")
      .attr("x1", c.x + c.w * 4 / 5).attr("x2", c.x + c.w)
      .attr("y1", s(v)).attr("y2", s(v))
      .attr("stroke", "#fff").attr("stroke-width", 1.6).attr("stroke-opacity", 0.9);
    g.append("text")
      .attr("x", c.labelX).attr("y", s(v)).attr("dy", "0.36em")
      .style("font-size", c.labelSize + "px").attr("fill", "#1a1a1a")
      .text(v);
  });
}

// ---- panel a), coloured by Gi ----
var tl = drawPanel({ left: 113, right: 601, top: 18.4, bottom: 353.5,
  xDomain: [0, 242], yDomain: [0, 241.5], xTicks: powerTicks, yTicks: powerTicks, xPad: 10,
  xTitle: "Predicted Power (W)", yTitle: "Actual Power (W)", xTitleY: 427, yTitleX: 38,
  tag: "a)", tagDx: 7, tagY: 74 });
tl.g.append("g").selectAll("circle").data(leftPoints).join("circle")
  .attr("cx", function(d) { return tl.x(d[0]); })
  .attr("cy", function(d) { return tl.y(d[0] - d[1]); })
  .attr("r", 5.2)
  .attr("fill", function(d) { return giColour(d[2]); });
tl.g.append("path")
  .datum(d3.zip(fitPredicted, fitActual))
  .attr("fill", "none").attr("stroke", "#3366ff").attr("stroke-width", 3)
  .attr("d", d3.line().x(function(d) { return tl.x(d[0]); }).y(function(d) { return tl.y(d[1]); }));
finishPanel(tl);

// ---- panel b), residuals coloured by Gi ----
var bl = drawPanel({ left: 113, right: 601, top: 466, bottom: 800,
  xDomain: [0, 242], yDomain: [-12, 12], xTicks: powerTicks, yTicks: residualTicks, xPad: 11,
  xTitle: "Predicted Power (W)", yTitle: "Residuals (W)", xTitleY: 872, yTitleX: 38,
  tag: "b)", tagDx: 7, tagY: 517 });
bl.g.append("g").selectAll("circle").data(leftPoints).join("circle")
  .attr("cx", function(d) { return bl.x(d[0]); })
  .attr("cy", function(d) { return bl.y(d[1]); })
  .attr("r", 5.2)
  .attr("fill", function(d) { return giColour(d[2]); });
finishPanel(bl);

// ---- panel a) right, coloured by module temperature ----
var tr = drawPanel({ left: 918, right: 1378, top: 17, bottom: 359,
  xDomain: [0, 245], yDomain: [0, 245], xTicks: powerTicks, yTicks: powerTicks, xPad: 9,
  xTitle: "Predicted Power (W)", yTitle: "Actual Power (W)", xTitleY: 428, yTitleX: 846,
  tag: "a)", tagDx: 6, tagY: 80 });
tr.g.append("g").selectAll("circle").data(leftPoints).join("circle")
  .attr("cx", function(d) { return tr.x(d[0]); })
  .attr("cy", function(d) { return tr.y(d[0] - d[1]); })
  .attr("r", 5)
  .attr("fill", function(d) { return tmodColour(d[3]); });
tr.g.append("path")
  .datum(d3.zip(fitPredicted, fitActual))
  .attr("fill", "none").attr("stroke", "#3366ff").attr("stroke-width", 3)
  .attr("d", d3.line().x(function(d) { return tr.x(d[0]); }).y(function(d) { return tr.y(d[1]); }));
finishPanel(tr);

// ---- panel b) right, residuals vs POA irradiance ----
var br = drawPanel({ left: 918, right: 1379, top: 461, bottom: 786,
  xDomain: [0, 1256], yDomain: [-12, 12], xTicks: irradianceTicks, yTicks: residualTicks, xPad: 9,
  xTitle: "POA", yTitle: "Residuals (W)", xTitleY: 865, yTitleX: 846,
  tag: "b)", tagDx: 6, tagY: 515 });
br.g.append("g").selectAll("circle").data(poaPoints).join("circle")
  .attr("cx", function(d) { return br.x(d[0]); })
  .attr("cy", function(d) { return br.y(d[1]); })
  .attr("r", 4)
  .attr("fill", function(d) { return tmodColour(d[2]); });
finishPanel(br);

// ---- colour bars ----
drawColourBar({ id: "gi1", x: 649, y: 88, w: 51, h: 239, limits: giLimits, colour: giColour,
  ticks: giTicks, title: "Gi", titleY: 71, labelX: 716, labelSize: 26 });
drawColourBar({ id: "gi2", x: 649, y: 535, w: 51, h: 239, limits: giLimits, colour: giColour,
  ticks: giTicks, title: "Gi", titleY: 517, labelX: 716, labelSize: 26 });
drawColourBar({ id: "tm1", x: 1421, y: 99.5, w: 46, h: 218, limits: tmodLimits, colour: tmodColour,
  ticks: tmodTicks, title: "Tmod (degC)", titleY: 84, labelX: 1482, labelSize: 25 });
drawColourBar({ id: "tm2", x: 1421, y: 533, w: 46, h: 219, limits: tmodLimits, colour: tmodColour,
  ticks: tmodTicks, title: "Tmod (degC)", titleY: 516, labelX: 1482, labelSize: 25 });

// ---- callout box with arrows ----
var calloutBlue = "#2e59a4";
svg.append("defs").append("marker")
  .attr("id", "head")
  .attr("markerUnits", "userSpaceOnUse")
  .attr("markerWidth", 20).attr("markerHeight", 16)
  .attr("refX", 18).attr("refY", 8)
  .attr("orient", "auto")
  .append("path").attr("d", "M0,0 L18,8 L0,16 L4,8 Z").attr("fill", calloutBlue);

var boxEdge = [1545, 377];
[[tl.x(arrowTipFit[0]), tl.y(arrowTipFit[1])],
 [br.x(arrowTipResidual[0]), br.y(arrowTipResidual[1])]].forEach(function(tip) {
  svg.append("line")
    .attr("x1", boxEdge[0]).attr("y1", boxEdge[1])
    .attr("x2", tip[0]).attr("y2", tip[1])
    .attr("stroke", calloutBlue).attr("stroke-width", 4)
    .attr("marker-end", "url(#head)");
});

// the callout box runs off the right edge of the page, as in the original slide
svg.append("rect")
  .attr("x", 1546).attr("y", 299).attr("width", 60).attr("height", 162)
  .attr("fill", calloutBlue);
svg.append("text")
  .attr("x", 1567).attr("y", 365)
  .style("font-family", "'Open Sans', 'Noto Sans', sans-serif")
  .style("font-size", "52px").attr("fill", "#fff")
  .text("M");
svg.append("text")
  .attr("x", 1567).attr("y", 435)
  .style("font-family", "'Open Sans', 'Noto Sans', sans-serif")
  .style("font-size", "52px").attr("fill", "#fff")
  .text("at");

</script>
</body>
